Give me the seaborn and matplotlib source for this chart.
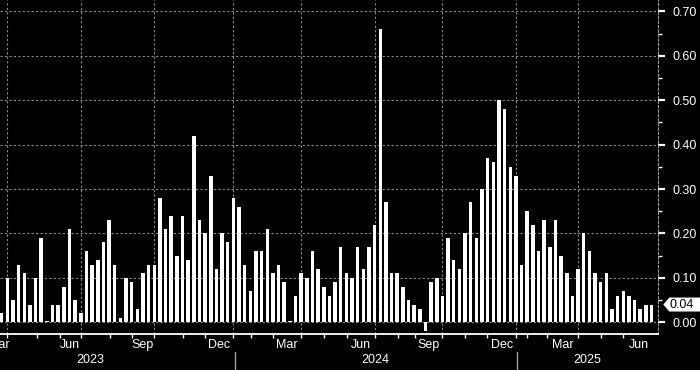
import numpy as np
import pandas as pd
import matplotlib
matplotlib.use("Agg")
import matplotlib.pyplot as plt
import seaborn as sns
from matplotlib.transforms import blended_transform_factory
from matplotlib.patches import Polygon

# ---- data ----
values = [
    0.02, 0.10, 0.05, 0.13, 0.11, 0.04, 0.10, 0.19, 0.003, 0.04,
    0.04, 0.08, 0.21, 0.05, 0.02, 0.16, 0.13, 0.14, 0.18, 0.23,
    0.13, 0.01, 0.10, 0.09, 0.03, 0.11, 0.13, 0.13, 0.28, 0.21,
    0.24, 0.15, 0.24, 0.14, 0.42, 0.23, 0.20, 0.33, 0.12, 0.20,
    0.18, 0.28, 0.26, 0.13, 0.07, 0.16, 0.16, 0.21, 0.11, 0.13,
    0.09, 0.003, 0.06, 0.11, 0.10, 0.16, 0.12, 0.08, 0.06, 0.09,
    0.17, 0.11, 0.10, 0.17, 0.12, 0.17, 0.22, 0.66, 0.27, 0.11,
    0.11, 0.08, 0.05, 0.04, 0.03, -0.02, 0.09, 0.10, 0.06, 0.19,
    0.14, 0.12, 0.20, 0.27, 0.19, 0.30, 0.37, 0.36, 0.50, 0.48,
    0.35, 0.33, 0.13, 0.25, 0.22, 0.16, 0.23, 0.17, 0.23, 0.15,
    0.11, 0.06, 0.12, 0.20, 0.16, 0.11, 0.09, 0.11, 0.03, 0.06,
    0.07, 0.06, 0.05, 0.03, 0.04, 0.04,
]
month_tick_pos = [1, 6.2, 10.3, 14, 19.2, 23.1, 27, 32.1, 36, 41, 44.2, 48.1,
                  53, 57.1, 61.1, 66, 70.1, 73.1, 78, 82, 85.9, 91, 92.9, 96.5,
                  102, 106, 110]
quarter_grid_pos = [1, 14, 27, 41, 53, 66, 78, 91, 102]
month_labels = ["Mar", "Jun", "Sep", "Dec", "Mar", "Jun", "Sep", "Dec", "Mar", "Jun"]
month_label_pos = [-0.5, 12.1, 25.0, 38.5, 50.5, 63.5, 75.5, 88.5, 99.3, 112.8]
year_labels = ["2023", "2024", "2025"]
year_label_pos = [15.6, 66.1, 103.7]
year_sep_pos = [41.2, 91.2]
y_ticks = [0.00, 0.10, 0.20, 0.30, 0.40, 0.50, 0.60, 0.70]
y_minor = [0.05, 0.15, 0.25, 0.35, 0.45, 0.55, 0.65]
last_value = values[-1]

sns.set_theme(style="dark")
plt.rcParams["font.family"] = ["Liberation Sans", "DejaVu Sans"]

W, H = 700, 370
fig = plt.figure(figsize=(7, 3.7), dpi=100, facecolor="black")
ax_w, ax_h, ax_b = 658.3, 334, 36
ax = fig.add_axes([0, ax_b / H, ax_w / W, ax_h / H])
ax.set_facecolor("black")

df = pd.DataFrame({"week": np.arange(len(values)), "value": values})
sns.barplot(data=df, x="week", y="value", native_scale=True, color="white",
            saturation=1, width=0.62, linewidth=0, ax=ax)

ax.set_xlim(-0.30, 116.2)
ax.set_ylim(-0.0263, 0.7254)
ax.set_xlabel("")
ax.set_ylabel("")

grid_kw = dict(color="#8a8a8a", linestyle=(0, (2, 2)), linewidth=0.8, zorder=0)
for y in y_ticks:
    ax.axhline(y, **grid_kw)
for x in quarter_grid_pos:
    ax.axvline(x, **grid_kw)

# x axis
ax.set_xticks(month_tick_pos)
ax.set_xticklabels([])
ax.tick_params(axis="x", which="major", direction="out", length=3, width=1,
               color="white", bottom=True)
trans_x = blended_transform_factory(ax.transData, ax.transAxes)
for lab, p in zip(month_labels, month_label_pos):
    ax.text(p, -0.032, lab, transform=trans_x, ha="center", va="center",
            color="white", fontsize=9, clip_on=False)
for lab, p in zip(year_labels, year_label_pos):
    ax.text(p, -0.078, lab, transform=trans_x, ha="center", va="center",
            color="white", fontsize=9, clip_on=False)
for p in year_sep_pos:
    ax.plot([p, p], [-0.053, -0.11], transform=trans_x, color="#a0a0a0",
            lw=1, clip_on=False)

# y axis on the right
ax.yaxis.tick_right()
ax.set_yticks(y_ticks)
ax.set_yticklabels([f"{v:.2f}" for v in y_ticks])
ax.set_yticks(y_minor, minor=True)
ax.tick_params(axis="y", which="major", direction="out", length=5, width=1.6,
               color="white", labelcolor="white", labelsize=9, pad=5,
               right=True, left=False)
ax.tick_params(axis="y", which="minor", direction="out", length=3, width=1,
               color="white", right=True, left=False)

for s in ["top", "left"]:
    ax.spines[s].set_visible(False)
ax.spines["bottom"].set_visible(True)
ax.spines["bottom"].set_color("white")
ax.spines["bottom"].set_linewidth(1.3)
ax.spines["right"].set_visible(True)
ax.spines["right"].set_color("#9a9a9a")
ax.spines["right"].set_linestyle((0, (2, 2)))
ax.spines["right"].set_linewidth(0.8)

# last value marker box
trans_y = blended_transform_factory(ax.transAxes, ax.transData)
hh = 7 / 444.3
x_tip = 1 + 5 / ax_w
x_sh = 1 + 11 / ax_w
x_end = 1 + 42 / ax_w
poly = Polygon([(x_tip, last_value), (x_sh, last_value + hh), (x_end, last_value + hh),
                (x_end, last_value - hh), (x_sh, last_value - hh)],
               closed=True, transform=trans_y, facecolor="white", edgecolor="none",
               clip_on=False, zorder=5)
ax.add_patch(poly)
ax.text(1 + 23.5 / ax_w, last_value, f"{last_value:.2f}", transform=trans_y,
        ha="center", va="center", color="black", fontsize=9, zorder=6, clip_on=False)

fig.savefig("out.png", dpi=100, facecolor="black")
